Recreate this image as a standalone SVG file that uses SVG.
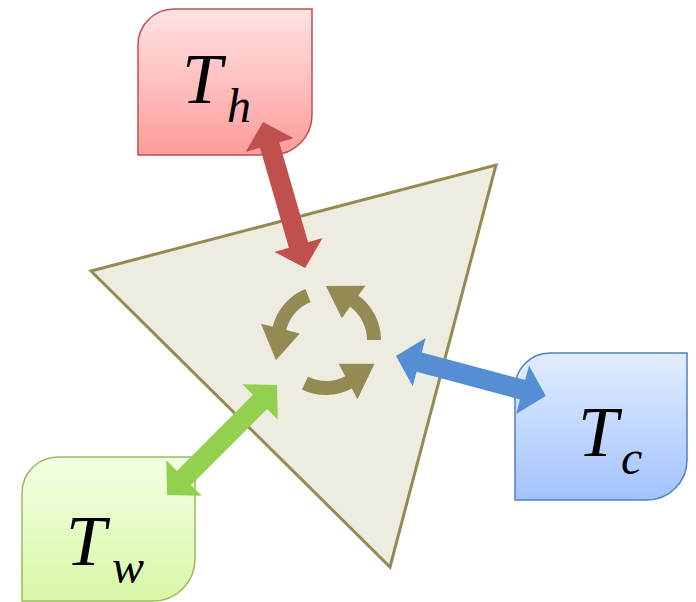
<svg xmlns="http://www.w3.org/2000/svg" width="696" height="602" viewBox="0 0 696 602">
<defs>
<linearGradient id="gh" x1="0" y1="0" x2="0" y2="1"><stop offset="0" stop-color="#FFE3E3"/><stop offset="1" stop-color="#FF9C9C"/></linearGradient>
<linearGradient id="gc" x1="0" y1="0" x2="0" y2="1"><stop offset="0" stop-color="#E2EDFF"/><stop offset="1" stop-color="#A3C3FF"/></linearGradient>
<linearGradient id="gw" x1="0" y1="0" x2="0" y2="1"><stop offset="0" stop-color="#F3FFE4"/><stop offset="1" stop-color="#D8F7A6"/></linearGradient>
<path id="cyc" d="M 55 0 A 55 55 0 0 0 32.33 -44.5 L 39.38 -54.2 L 0 -54 L 15.87 -21.84 L 24.1 -33.17 A 41 41 0 0 1 41 0 Z"/>
</defs>
<style>
.lbl{font-family:"Liberation Serif","DejaVu Serif",serif;font-style:italic;fill:#000}
.big{font-size:72px}
.sub{font-size:48px}
.cyc{fill:#948A54}
</style>
<g id="triangle">
<polygon points="91,271 496,165 390,567" fill="#EEECE1" stroke="#948A54" stroke-width="3" stroke-linejoin="miter"/>
<g class="cyc">
<use href="#cyc" transform="translate(326,340)"/>
<use href="#cyc" transform="translate(326,340) rotate(116)"/>
<use href="#cyc" transform="translate(326,340) rotate(248)"/>
</g>
</g>
<g id="Th">
<path d="M 174 9 H 312 V 115 A 40 40 0 0 1 272 155 H 138 V 45 A 36 36 0 0 1 174 9 Z" fill="url(#gh)" stroke="#C0504D" stroke-width="1.5"/>
<text class="lbl big" x="182" y="103">T</text>
<text class="lbl sub" x="227" y="122">h</text>
</g>
<g id="Tc">
<path d="M 550 353 H 687 V 460 A 40 40 0 0 1 647 500 H 515 V 388 A 35 35 0 0 1 550 353 Z" fill="url(#gc)" stroke="#4F81BD" stroke-width="1.5"/>
<text class="lbl big" x="578" y="456">T</text>
<text class="lbl sub" x="621" y="474">c</text>
</g>
<g id="Tw">
<path d="M 58 457 H 195 V 559 A 42 42 0 0 1 153 601 H 22 V 493 A 36 36 0 0 1 58 457 Z" fill="url(#gw)" stroke="#9BBB59" stroke-width="1.5"/>
<text class="lbl big" x="66" y="565">T</text>
<text class="lbl sub" x="112" y="583">w</text>
</g>
<g id="connectors">
<polygon transform="translate(263,122) rotate(73.9)" fill="#C0504D" points="0,0 24,-25 24,-10 128,-10 128,-25 152,0 128,25 128,10 24,10 24,25"/>
<polygon transform="translate(396,356) rotate(14.93)" fill="#558ED5" points="0,0 24,-25 24,-10 131,-10 131,-25 155,0 131,25 131,10 24,10 24,25"/>
<polygon transform="translate(167,495) rotate(-45)" fill="#92D050" points="0,0 24,-25 24,-10 131.6,-10 131.6,-25 155.6,0 131.6,25 131.6,10 24,10 24,25"/>
</g>
</svg>
